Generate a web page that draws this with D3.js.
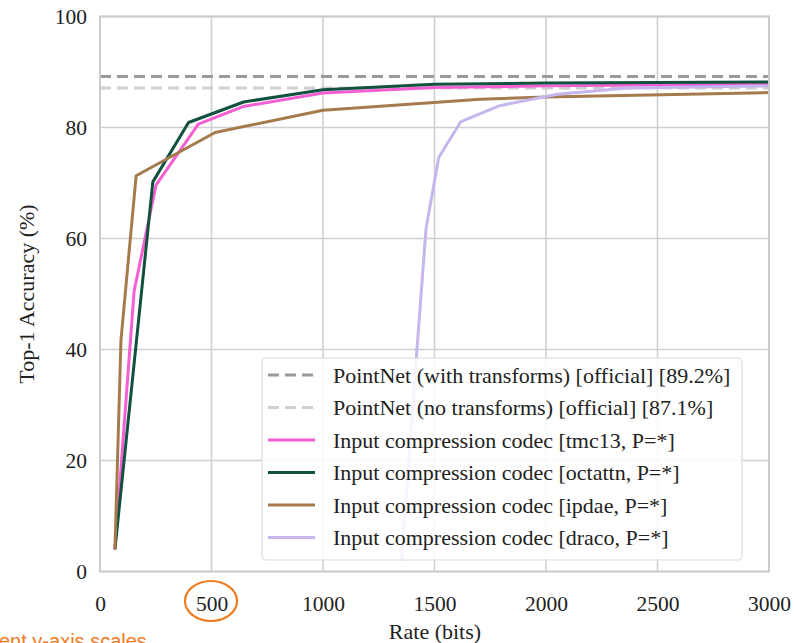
<!DOCTYPE html>
<html>
<head>
<meta charset="utf-8">
<script src="https://cdn.jsdelivr.net/npm/d3@7"></script>
<style>
  html, body { margin: 0; padding: 0; background: #fff; overflow: hidden; }
  svg { display: block; }
</style>
</head>
<body>
<svg id="chart" width="794" height="643"></svg>
<script>
// ---- data ----
const xTicks = [0, 500, 1000, 1500, 2000, 2500, 3000];
const yTicks = [0, 20, 40, 60, 80, 100];

const refWithTransforms = 89.2;
const refNoTransforms = 87.1;

const tmc13Rate = [67, 153, 251, 441, 644, 1000, 1500, 2000, 3000];
const tmc13Acc  = [4, 50.5, 69.6, 80.6, 83.8, 86.2, 87.2, 87.5, 87.8];

const octattnRate = [67, 237, 397, 644, 1000, 1500, 2000, 3000];
const octattnAcc  = [4, 70.2, 80.9, 84.6, 86.8, 87.8, 88.0, 88.2];

const ipdaeRate = [67, 94, 162, 516, 1000, 1706, 2000, 3000];
const ipdaeAcc  = [4, 41.7, 71.3, 79.1, 83.1, 85.1, 85.5, 86.3];

const dracoRate = [1352, 1419, 1462, 1519, 1617, 1789, 2051, 2365, 3000];
const dracoAcc  = [2, 38.7, 61.8, 74.6, 81.0, 83.9, 86.0, 87.1, 87.5];

const legendLabels = [
  "PointNet (with transforms) [official] [89.2%]",
  "PointNet (no transforms) [official] [87.1%]",
  "Input compression codec [tmc13, P=*]",
  "Input compression codec [octattn, P=*]",
  "Input compression codec [ipdae, P=*]",
  "Input compression codec [draco, P=*]"
];

// ---- styles ----
const colWith = "#9a9a9a", colNo = "#cfcfcf";
const colTmc = "#f55fd3", colOct = "#12503f", colIpd = "#a57b4e", colDra = "#c6b6ee";
const font = "'Liberation Serif', 'Times New Roman', serif";

const svg = d3.select("#chart");
const x = d3.scaleLinear().domain([0, 3000]).range([100, 769]);
const y = d3.scaleLinear().domain([0, 100]).range([571.5, 16.5]);

// grid
const g = svg.append("g");
g.selectAll(".vg").data(xTicks).join("line")
  .attr("x1", d => x(d)).attr("x2", d => x(d))
  .attr("y1", y(0)).attr("y2", y(100))
  .attr("stroke", "#d0d0d0").attr("stroke-width", 1.6);
g.selectAll(".hg").data(yTicks).join("line")
  .attr("x1", x(0)).attr("x2", x(3000))
  .attr("y1", d => y(d)).attr("y2", d => y(d))
  .attr("stroke", "#d0d0d0").attr("stroke-width", 1.6);

// axes (labels only, via d3 axes)
const xAxis = svg.append("g").attr("transform", `translate(0,${y(0)})`)
  .call(d3.axisBottom(x).tickValues(xTicks).tickSize(0).tickPadding(24).tickFormat(d3.format("d")));
const yAxis = svg.append("g").attr("transform", `translate(${x(0)},0)`)
  .call(d3.axisLeft(y).tickValues(yTicks).tickSize(0).tickPadding(13).tickFormat(d3.format("d")));
[xAxis, yAxis].forEach(a => {
  a.select(".domain").remove();
  a.selectAll("text").attr("font-family", font).attr("font-size", 21.5).attr("fill", "#222");
});

// reference dashed lines
svg.append("line").attr("x1", x(0)).attr("x2", x(3000))
  .attr("y1", y(refWithTransforms)).attr("y2", y(refWithTransforms))
  .attr("stroke", colWith).attr("stroke-width", 3).attr("stroke-dasharray", "11,6");
svg.append("line").attr("x1", x(0)).attr("x2", x(3000))
  .attr("y1", y(refNoTransforms)).attr("y2", y(refNoTransforms))
  .attr("stroke", colNo).attr("stroke-width", 3).attr("stroke-dasharray", "11,6");

const line = d3.line().x(d => x(d[0])).y(d => y(d[1]));
const series = [
  {r: tmc13Rate, a: tmc13Acc, c: colTmc},
  {r: octattnRate, a: octattnAcc, c: colOct},
  {r: ipdaeRate, a: ipdaeAcc, c: colIpd},
  {r: dracoRate, a: dracoAcc, c: colDra}
];
series.forEach(s => {
  svg.append("path").datum(d3.zip(s.r, s.a))
    .attr("d", line).attr("fill", "none")
    .attr("stroke", s.c).attr("stroke-width", 3)
    .attr("stroke-linejoin", "round");
});

// plot border
svg.append("rect").attr("x", x(0)).attr("y", y(100))
  .attr("width", x(3000) - x(0)).attr("height", y(0) - y(100))
  .attr("fill", "none").attr("stroke", "#cccccc").attr("stroke-width", 2);

// legend
const lg = svg.append("g");
lg.append("rect").attr("x", 262).attr("y", 358).attr("width", 480).attr("height", 202)
  .attr("rx", 4).attr("fill", "rgba(255,255,255,0.85)").attr("stroke", "#dcdcdc").attr("stroke-width", 1.2);
const legendStyles = [
  {c: colWith, dash: "11,6"}, {c: colNo, dash: "11,6"},
  {c: colTmc, dash: null}, {c: colOct, dash: null}, {c: colIpd, dash: null}, {c: colDra, dash: null}
];
legendLabels.forEach((t, i) => {
  const cy = 375 + i * 32.5;
  const ln = lg.append("line").attr("x1", 268).attr("x2", 315).attr("y1", cy).attr("y2", cy)
    .attr("stroke", legendStyles[i].c).attr("stroke-width", 3);
  if (legendStyles[i].dash) ln.attr("stroke-dasharray", legendStyles[i].dash);
  lg.append("text").attr("x", 333).attr("y", cy + 7.5).text(t)
    .attr("font-family", font).attr("font-size", 22).attr("fill", "#222");
});

// axis titles
svg.append("text").attr("x", 435).attr("y", 639).attr("text-anchor", "middle")
  .attr("font-family", font).attr("font-size", 22).attr("fill", "#222").text("Rate (bits)");
svg.append("text").attr("transform", `translate(34,${(y(0) + y(100)) / 2}) rotate(-90)`)
  .attr("text-anchor", "middle").attr("font-family", font).attr("font-size", 22).attr("fill", "#222")
  .text("Top-1 Accuracy (%)");

// annotation overlay (orange circle and clipped caption, as in the reference)
svg.append("ellipse").attr("cx", 211).attr("cy", 601).attr("rx", 26).attr("ry", 20)
  .attr("fill", "none").attr("stroke", "#f07a1c").attr("stroke-width", 2.2);
svg.append("text").attr("x", -1).attr("y", 648)
  .attr("font-family", "'Liberation Sans', Arial, sans-serif").attr("font-size", 20)
  .attr("fill", "#f07a1c").text("ent y-axis scales");
</script>
</body>
</html>
